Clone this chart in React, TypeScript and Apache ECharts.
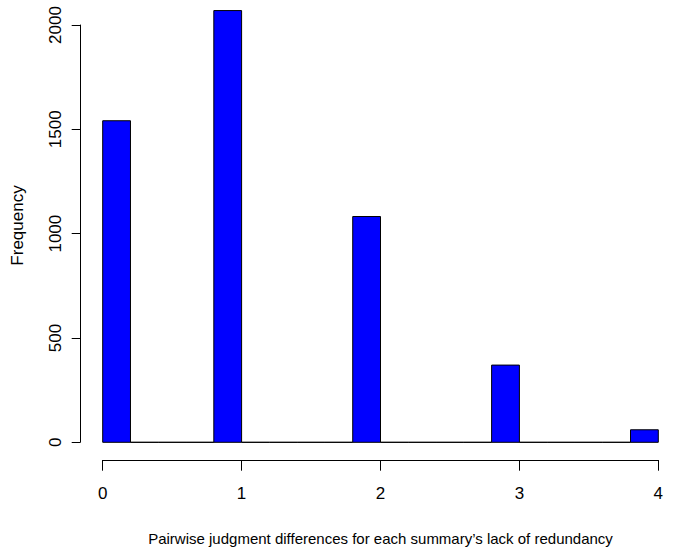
import React, { useEffect, useRef } from "react";
import * as echarts from "echarts";

const binStarts = [0, 0.2, 0.4, 0.6, 0.8, 1.0, 1.2, 1.4, 1.6, 1.8, 2.0, 2.2, 2.4, 2.6, 2.8, 3.0, 3.2, 3.4, 3.6, 3.8];
const binWidth = 0.2;
const counts = [1541, 0, 0, 0, 2069, 0, 0, 0, 0, 1082, 0, 0, 0, 0, 370, 0, 0, 0, 0, 60];
const xTicks = [0, 1, 2, 3, 4];
const yTicks = [0, 500, 1000, 1500, 2000];
const xTitle = "Pairwise judgment differences for each summary\u2019s lack of redundancy";
const yTitle = "Frequency";

export default function App() {
  const ref = useRef<HTMLDivElement>(null);
  useEffect(() => {
    if (!ref.current) return;
    const chart = echarts.init(ref.current, undefined, { renderer: "svg" });
    const font = "'Liberation Sans', Arial, Helvetica, sans-serif";
    const data = binStarts.map((s, i) => [s, s + binWidth, counts[i]]);
    chart.setOption({
      animation: false,
      backgroundColor: "#ffffff",
      grid: [
        { left: 102.7, right: 17.7, top: 4.1, bottom: 111.7 },
        { left: 102.7, right: 17.7, top: 25, bottom: 111.7 },
      ],
      graphic: [
        {
          type: "text",
          x: 17.5,
          y: 225.5,
          rotation: Math.PI / 2,
          style: {
            text: yTitle,
            fill: "#000",
            fontSize: 17,
            fontFamily: font,
            align: "center",
            verticalAlign: "middle",
          },
        },
      ],
      xAxis: [
        {
          type: "value",
          gridIndex: 0,
          min: xTicks[0],
          max: xTicks[xTicks.length - 1],
          interval: 1,
          offset: 17.7,
          axisLine: { show: true, onZero: false, lineStyle: { color: "#000", width: 1 } },
          axisTick: { show: true, length: 10.7, lineStyle: { color: "#000" } },
          axisLabel: {
            color: "#000",
            fontSize: 17,
            fontFamily: font,
            margin: 25,
            formatter: (v: number) => String(v),
          },
          splitLine: { show: false },
          name: xTitle,
          nameLocation: "middle",
          nameGap: 71,
          nameTextStyle: { color: "#000", fontSize: 15, fontFamily: font },
        },
        { type: "value", gridIndex: 1, min: 0, max: 4, show: false },
      ],
      yAxis: [
        { type: "value", gridIndex: 0, min: 0, max: 2100, show: false },
        {
          type: "value",
          gridIndex: 1,
          min: yTicks[0],
          max: yTicks[yTicks.length - 1],
          interval: 500,
          offset: 22.7,
          axisLine: { show: true, onZero: false, lineStyle: { color: "#000", width: 1 } },
          axisTick: { show: true, length: 8.3, lineStyle: { color: "#000" } },
          axisLabel: {
            color: "#000",
            fontSize: 17,
            fontFamily: font,
            rotate: 90,
            margin: 24.5,
            verticalAlign: "middle",
            align: "center",
            formatter: (v: number) => String(v),
          },
          splitLine: { show: false },
        },
      ],
      series: [
        {
          type: "custom",
          xAxisIndex: 0,
          yAxisIndex: 0,
          data,
          renderItem: (params: any, api: any) => {
            const p0 = api.coord([api.value(0), api.value(2)]);
            const p1 = api.coord([api.value(1), 0]);
            return {
              type: "rect",
              shape: { x: p0[0], y: p0[1], width: p1[0] - p0[0], height: p1[1] - p0[1] },
              style: { fill: "#0000ff", stroke: "#000", lineWidth: 1 },
            };
          },
        },
      ],
    });
    return () => chart.dispose();
  }, []);
  return <div ref={ref} style={{ width: 676, height: 554, position: "absolute", left: 0, top: 0 }} />;
}
